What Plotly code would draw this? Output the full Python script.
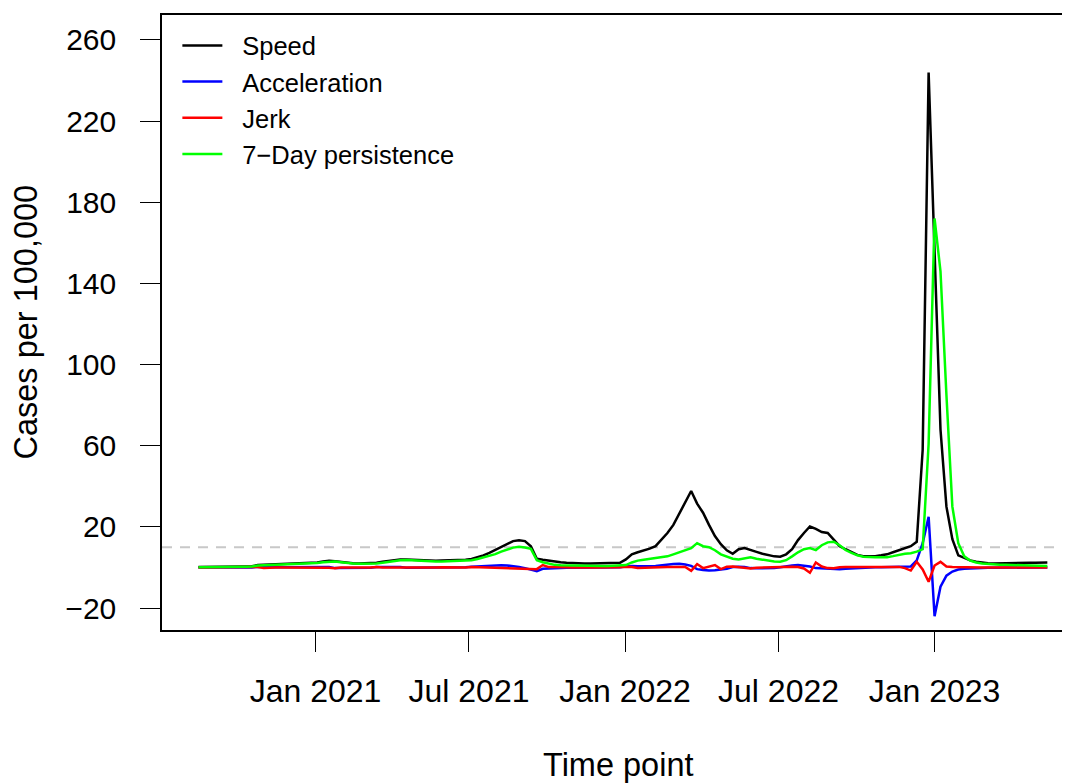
import pandas as pd
import plotly.graph_objects as go

# weekly time points
dates = pd.date_range("2020-08-16", periods=144, freq="7D")

speed = [0.2, 0.2, 0.3, 0.3, 0.3, 0.3, 0.4, 0.4, 0.5, 0.6,
         1.2, 1.3, 1.4, 1.5, 1.6, 1.7, 1.8, 1.9, 2.0, 2.1,
         2.5, 3.0, 3.3, 3.1, 2.7, 2.3, 2.1, 2.0, 2.0, 2.0,
         2.3, 2.8, 3.3, 3.7, 4.0, 4.0, 3.8, 3.7, 3.6, 3.4,
         3.3, 3.4, 3.5, 3.5, 3.6, 3.8, 4.2, 5.0, 6.0, 7.2,
         8.6, 10.2, 11.8, 13.0, 13.4, 13.0, 10.5, 4.3, 3.8, 3.3,
         2.9, 2.6, 2.3, 2.1, 2.0, 2.0, 2.0, 2.0, 2.0, 2.1,
         2.2, 2.3, 4.0, 6.5, 7.5, 8.3, 9.3, 10.5, 13.5, 17.0,
         21.0, 26.8, 32.0, 37.7, 31.5, 27.0, 21.0, 15.5, 11.5, 8.5,
         6.8, 9.0, 9.6, 8.5, 7.7, 6.8, 6.0, 5.5, 5.3, 6.5,
         9.0, 13.5, 17.0, 20.2, 19.0, 17.5, 17.0, 13.5, 10.5, 9.0,
         7.5, 6.2, 5.6, 5.5, 5.6, 6.0, 6.5, 7.5, 8.6, 9.5,
         10.5, 12.7, 58.0, 244.0, 158.0, 68.0, 30.0, 14.0, 6.0, 4.6,
         3.5, 2.8, 2.3, 2.1, 2.0, 2.0, 2.0, 2.1, 2.1, 2.2,
         2.3, 2.4, 2.5, 2.5]

acceleration = [0.0, 0.0, 0.0, 0.0, 0.0, 0.0, 0.0, 0.0, 0.0, 0.0,
                0.4, 0.1, 0.1, 0.1, 0.1, 0.1, 0.1, 0.1, 0.1, 0.1,
                0.3, 0.3, 0.3, -0.3, -0.3, -0.3, -0.1, -0.1, -0.1, -0.1,
                0.3, 0.3, 0.3, 0.3, 0.3, -0.1, -0.1, -0.1, -0.1, -0.1,
                -0.1, 0.1, 0.1, 0.1, 0.1, 0.1, 0.4, 0.6, 0.8, 1.0,
                1.1, 1.1, 1.0, 0.7, 0.2, -0.3, -1.0, -1.8, -0.6, -0.4,
                -0.2, -0.2, -0.1, -0.1, 0.0, 0.0, 0.0, 0.0, 0.0, 0.0,
                0.0, 0.1, 0.5, 0.8, 0.6, 0.5, 0.6, 0.8, 1.2, 1.5,
                1.7, 1.8, 1.5, 0.8, -0.8, -1.2, -1.5, -1.3, -1.0, -0.6,
                0.2, 0.4, 0.2, -0.3, -0.4, -0.4, -0.3, -0.2, 0.1, 0.6,
                1.0, 1.2, 1.0, 0.5, -0.3, -0.4, -0.6, -0.9, -0.8, -0.6,
                -0.4, -0.3, -0.1, 0.0, 0.1, 0.1, 0.2, 0.3, 0.3, 0.3,
                0.5, 3.5, 12.0, 25.0, -24.0, -9.5, -4.0, -2.0, -1.0, -0.6,
                -0.4, -0.3, -0.2, -0.1, -0.1, -0.1, -0.1, 0.0, 0.0, 0.0,
                0.0, 0.0, 0.0, 0.0]

jerk = [0.0, 0.0, 0.0, 0.0, 0.0, 0.0, 0.0, 0.0, 0.0, 0.0,
        0.3, -0.2, 0.0, 0.0, 0.0, 0.0, 0.0, 0.0, 0.0, 0.0,
        0.2, 0.0, -0.1, -0.4, 0.0, 0.0, 0.1, 0.0, 0.0, 0.0,
        0.3, 0.0, 0.0, 0.0, 0.0, -0.3, 0.0, 0.0, 0.0, 0.0,
        0.0, 0.1, 0.0, 0.0, 0.0, 0.0, 0.3, 0.2, 0.2, 0.2,
        0.1, 0.0, -0.1, -0.3, -0.5, -0.5, -0.7, -0.8, 1.2, 0.2,
        0.2, 0.0, 0.1, 0.0, 0.1, 0.0, 0.0, 0.0, 0.0, 0.0,
        0.0, 0.1, 0.4, 0.3, -0.2, -0.1, 0.1, 0.2, 0.4, 0.3,
        0.2, 0.1, 0.3, -1.6, 1.7, -0.3, 0.4, 1.2, -0.8, 0.4,
        0.5, 0.2, -0.2, -0.5, -0.1, 0.0, 0.1, 0.1, 0.3, 0.5,
        0.4, 0.2, -0.5, -2.6, 2.5, 0.5, -0.3, -0.4, 0.1, 0.2,
        0.2, 0.1, 0.2, 0.1, 0.1, 0.0, 0.1, 0.1, 0.3, -0.3,
        -1.5, 2.8, -1.0, -7.0, 1.0, 2.8, 0.5, 0.2, 0.1, 0.0,
        0.0, 0.0, 0.0, 0.0, 0.0, 0.0, 0.0, 0.0, 0.0, 0.0,
        0.0, 0.0, 0.0, 0.0]

persistence = [0.1, 0.1, 0.1, 0.2, 0.2, 0.2, 0.3, 0.3, 0.4, 0.5,
               1.0, 1.1, 1.2, 1.3, 1.4, 1.5, 1.6, 1.7, 1.8, 1.9,
               2.2, 2.6, 2.9, 2.9, 2.6, 2.2, 2.0, 1.8, 1.8, 1.8,
               2.0, 2.4, 2.9, 3.3, 3.6, 3.7, 3.5, 3.4, 3.3, 3.1,
               3.0, 3.0, 3.1, 3.1, 3.2, 3.3, 3.6, 4.2, 5.0, 5.8,
               6.6, 7.8, 8.8, 9.8, 10.2, 9.9, 9.2, 3.6, 2.6, 1.8,
               1.3, 1.1, 1.0, 0.9, 0.8, 0.8, 0.7, 0.7, 0.7, 0.7,
               0.8, 0.9, 1.2, 2.5, 3.4, 3.8, 4.3, 4.8, 5.1, 5.5,
               6.5, 7.5, 8.5, 9.5, 12.0, 10.5, 10.0, 8.5, 6.5, 5.2,
               4.3, 4.0, 4.6, 5.0, 4.3, 3.8, 3.3, 3.0, 2.8, 3.6,
               5.5, 7.5, 9.0, 9.6, 8.6, 11.0, 12.4, 12.7, 11.0, 8.6,
               7.2, 6.0, 5.3, 5.0, 5.0, 5.0, 5.1, 5.6, 6.3, 6.8,
               7.0, 7.8, 9.0, 61.0, 172.0, 146.0, 85.0, 30.0, 12.0, 5.5,
               3.4, 2.5, 2.0, 1.7, 1.5, 1.4, 1.3, 1.2, 1.1, 1.0,
               1.0, 0.9, 0.8, 0.8]

threshold = 10
y_ticks = [-20, 20, 60, 100, 140, 180, 220, 260]
x_tick_dates = ["2021-01-01", "2021-07-01", "2022-01-01", "2022-07-01", "2023-01-01"]
x_tick_labels = ["Jan 2021", "Jul 2021", "Jan 2022", "Jul 2022", "Jan 2023"]
series_names = ["Speed", "Acceleration", "Jerk", "7\u2212Day persistence"]
series_colors = ["#000000", "#0000FF", "#FF0000", "#00FF00"]

FONT = "Liberation Sans, Arial, sans-serif"
GAP = "\u2002\u200a"  # visual gap between legend line sample and its label

fig = go.Figure()
for name, vals, col in zip(series_names, [speed, acceleration, jerk, persistence], series_colors):
    fig.add_trace(go.Scatter(x=dates, y=vals, mode="lines", name=GAP + name,
                             line=dict(color=col, width=2.5)))

fig.add_hline(y=threshold, line=dict(color="#C8C8C8", width=2, dash="10px,8px"),
              layer="below")

# the page body adds an 8px offset; figure sized to fill the remaining window
fig.update_layout(
    width=1062, height=775,
    margin=dict(l=154, r=2, t=7, b=153),
    plot_bgcolor="white", paper_bgcolor="white",
    font=dict(family=FONT, color="black"),
    showlegend=True,
    legend=dict(x=0.017, y=0.988, xanchor="left", yanchor="top",
                bgcolor="rgba(0,0,0,0)", font=dict(size=25.5, family=FONT),
                tracegroupgap=0, itemwidth=40),
)
fig.update_xaxes(
    range=["2020-07-04", "2023-06-05"],
    tickvals=x_tick_dates, ticktext=x_tick_labels,
    ticks="outside", ticklen=20, tickwidth=1.3, tickcolor="black",
    tickfont=dict(size=32, family=FONT), ticklabelstandoff=12,
    showline=True, linecolor="black", linewidth=1.5, mirror=True,
    showgrid=False, zeroline=False,
)
fig.update_yaxes(
    range=[-30.8, 272.3],
    tickvals=y_ticks,
    ticks="outside", ticklen=20, tickwidth=1.3, tickcolor="black",
    tickfont=dict(size=30, family=FONT), ticklabelstandoff=18,
    showline=True, linecolor="black", linewidth=1.5, mirror=True,
    showgrid=False, zeroline=False,
)
fig.add_annotation(text="Time point", xref="paper", yref="paper", x=0.5, y=0,
                   yshift=-135, xshift=4, showarrow=False, yanchor="middle",
                   font=dict(size=32.5, family=FONT))
fig.add_annotation(text="Cases per 100,000", xref="paper", yref="paper", x=0, y=0.5,
                   xshift=-137, showarrow=False, textangle=-90, xanchor="center",
                   font=dict(size=32.5, family=FONT))

fig.write_html("out.html")
